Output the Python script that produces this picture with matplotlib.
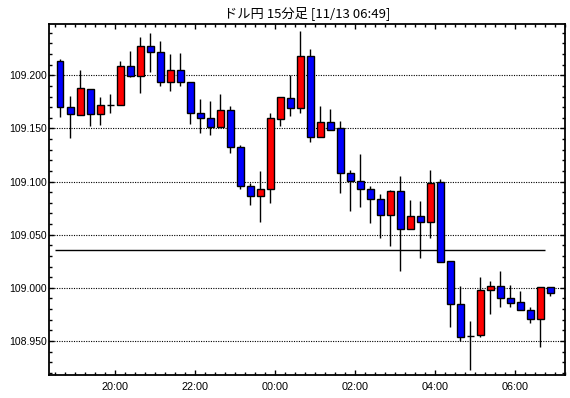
import numpy as np
import pandas as pd
import matplotlib
matplotlib.use("Agg")
import matplotlib.pyplot as plt
from matplotlib.ticker import MultipleLocator, FixedLocator, NullFormatter

plt.rcParams['font.family'] = ['Noto Sans CJK JP', 'DejaVu Sans']

# 15 minute candles, 18:30 .. 06:45
times = pd.date_range("2019-11-12 18:30", periods=50, freq="15min")

opens = [109.213, 109.170, 109.163, 109.187, 109.164, 109.172, 109.172, 109.209, 109.199, 109.228,
         109.222, 109.194, 109.205, 109.194, 109.165, 109.160, 109.151, 109.167, 109.133, 109.096,
         109.086, 109.093, 109.159, 109.179, 109.169, 109.218, 109.142, 109.156, 109.150, 109.108,
         109.101, 109.093, 109.084, 109.069, 109.091, 109.055, 109.068, 109.062, 109.100, 109.025,
         108.985, 108.955, 108.956, 108.998, 109.002, 108.990, 108.987, 108.979, 108.971, 109.001]
highs = [109.215, 109.181, 109.205, 109.187, 109.180, 109.182, 109.213, 109.223, 109.236, 109.240,
         109.232, 109.220, 109.221, 109.194, 109.178, 109.176, 109.182, 109.171, 109.134, 109.099,
         109.110, 109.165, 109.180, 109.200, 109.242, 109.225, 109.171, 109.168, 109.157, 109.111,
         109.126, 109.096, 109.088, 109.092, 109.105, 109.083, 109.082, 109.111, 109.102, 109.025,
         109.002, 108.969, 109.010, 109.006, 109.016, 109.003, 108.997, 108.982, 109.001, 109.001]
lows = [109.161, 109.141, 109.163, 109.152, 109.153, 109.165, 109.172, 109.198, 109.183, 109.203,
        109.190, 109.185, 109.190, 109.154, 109.146, 109.144, 109.151, 109.127, 109.093, 109.078,
        109.062, 109.080, 109.152, 109.162, 109.165, 109.137, 109.142, 109.149, 109.089, 109.072,
        109.076, 109.061, 109.047, 109.039, 109.016, 109.055, 109.028, 109.047, 109.024, 108.963,
        108.950, 108.923, 108.954, 108.975, 108.982, 108.982, 108.979, 108.967, 108.944, 108.992]
closes = [109.170, 109.164, 109.188, 109.164, 109.172, 109.172, 109.209, 109.199, 109.228, 109.222,
          109.194, 109.205, 109.194, 109.165, 109.160, 109.151, 109.167, 109.133, 109.096, 109.086,
          109.093, 109.160, 109.180, 109.169, 109.218, 109.142, 109.156, 109.149, 109.108, 109.101,
          109.093, 109.084, 109.069, 109.091, 109.055, 109.068, 109.062, 109.099, 109.024, 108.985,
          108.954, 108.955, 108.998, 109.002, 108.990, 108.986, 108.979, 108.971, 109.001, 108.995]

avg_line = 109.036
title = "ドル円 15分足 [11/13 06:49]"
xtick_labels = ["20:00", "22:00", "00:00", "02:00", "04:00", "06:00"]

# x in hours since 18:00, candle drawn at middle of its 15 min period
base = pd.Timestamp("2019-11-12 18:00")
start = np.array([(t - base).total_seconds() / 3600 for t in times])
x = start + 0.125
o = np.array(opens)
h = np.array(highs)
l = np.array(lows)
c = np.array(closes)

fig = plt.figure(figsize=(5.70, 3.98), dpi=100)
ax = fig.add_axes([49.3 / 570, 1 - 375 / 398, (565.3 - 49.3) / 570, (375 - 24.3) / 398])

for v in np.arange(108.95, 109.25, 0.05):
    ax.axhline(v, color="black", lw=0.8, ls=(0, (1, 1.2)), zorder=1)

ax.hlines(avg_line, start[0], start[-1], color="black", lw=1.0, zorder=2)

ax.vlines(x, l, h, color="black", lw=1.0, zorder=3)
colors = np.where(c > o, "#ff0000", np.where(c < o, "#0000ff", "black"))
ax.bar(x, np.abs(c - o), bottom=np.minimum(o, c), width=0.16,
       color=colors, edgecolor="black", linewidth=1.0, zorder=4)

ax.set_xlim(0.35, 13.25)
ax.set_ylim(108.918, 109.248)

ax.yaxis.set_major_locator(MultipleLocator(0.05))
ax.yaxis.set_minor_locator(MultipleLocator(0.01))
ax.yaxis.set_major_formatter(lambda v, p: f"{v:.3f}")
ax.xaxis.set_major_locator(FixedLocator([2, 4, 6, 8, 10, 12]))
ax.set_xticklabels(xtick_labels)
ax.xaxis.set_minor_locator(MultipleLocator(0.25))
ax.xaxis.set_minor_formatter(NullFormatter())

ax.tick_params(which="both", direction="in", top=True, right=True, width=1, color="black")
ax.tick_params(which="major", length=3.6)
ax.tick_params(which="minor", length=2.2)
ax.tick_params(axis="y", pad=1.5, labelsize=7.5)
ax.tick_params(axis="x", pad=5, labelsize=7.8)
for lab in ax.get_xticklabels() + ax.get_yticklabels():
    lab.set_family("Liberation Sans")

for s in ax.spines.values():
    s.set_linewidth(1.3)

fig.text(307 / 570, 1 - 13 / 398, title, ha="center", va="center", fontsize=9.5)

fig.savefig("out.png", dpi=100)
